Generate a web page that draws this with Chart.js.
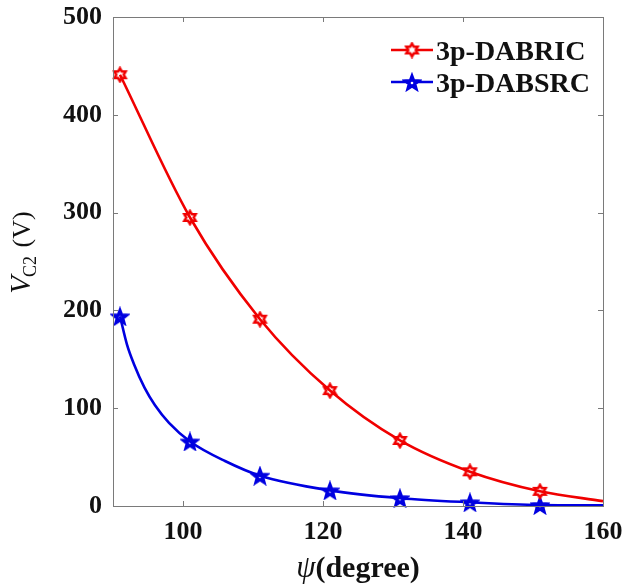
<!DOCTYPE html>
<html>
<head>
<meta charset="utf-8">
<script src="https://cdn.jsdelivr.net/npm/chart.js@4.4.1/dist/chart.umd.min.js"></script>
<style>
html,body{margin:0;padding:0;background:#fff;}
canvas{display:block;}
</style>
</head>
<body>
<canvas id="c" width="638" height="586"></canvas>
<script>
// ---- marker data ----
const psiMarks = [91, 101, 111, 121, 131, 141, 151];
const dabricMarks = [441, 295, 191, 118, 67, 35, 15];
const dabsrcMarks = [194, 66, 31, 16, 8, 3.8, 1];
// ---- curve samples ----
const psiCurveRed = [91, 101, 111, 121, 131, 141, 151, 160];
const dabricCurve = [441, 295, 191, 118, 67, 35, 15, 5];
const psiCurveBlue = [91, 92, 93, 94.5, 96, 98, 101, 106, 111, 121, 131, 141, 151, 160];
const dabsrcCurve = [194, 165, 145, 121, 103, 85, 66, 46, 31, 16, 8, 3.8, 1, 0.6];
const xTicks = [100, 120, 140, 160];
const yTicks = [0, 100, 200, 300, 400, 500];
const seriesNames = ['3p-DABRIC', '3p-DABSRC'];

const RED = '#f00000';
const BLUE = '#0000e0';
const SERIF = '"Liberation Serif", "DejaVu Serif", serif';

function hexagram(color, size) {
  const c = document.createElement('canvas');
  c.width = size; c.height = size;
  const g = c.getContext('2d');
  const cx = size / 2, cy = size / 2, r = size / 2 - 2;
  g.lineWidth = 2.5; g.strokeStyle = color; g.fillStyle = '#fff';
  g.lineJoin = 'miter';
  g.beginPath();
  for (let i = 0; i < 12; i++) {
    const a = -Math.PI / 2 + i * Math.PI / 6;
    const rr = (i % 2 === 0) ? r : r / Math.sqrt(3);
    const x = cx + rr * Math.cos(a), y = cy + rr * Math.sin(a);
    if (i === 0) g.moveTo(x, y); else g.lineTo(x, y);
  }
  g.closePath(); g.fill(); g.stroke();
  return c;
}
function pentagram(color, size) {
  const c = document.createElement('canvas');
  c.width = size; c.height = size;
  const g = c.getContext('2d');
  const cx = size / 2, cy = size / 2 + 1, r = size / 2 - 1.5;
  g.lineWidth = 2; g.strokeStyle = color; g.fillStyle = color;
  g.lineJoin = 'miter';
  g.beginPath();
  for (let i = 0; i < 10; i++) {
    const a = -Math.PI / 2 + i * Math.PI / 5;
    const rr = (i % 2 === 0) ? r : r * 0.42;
    const x = cx + rr * Math.cos(a), y = cy + rr * Math.sin(a);
    if (i === 0) g.moveTo(x, y); else g.lineTo(x, y);
  }
  g.closePath(); g.fill(); g.stroke();
  g.fillStyle = '#fff';
  g.beginPath(); g.arc(cx, cy, 1.3, 0, Math.PI * 2); g.fill();
  return c;
}
const redMark = hexagram(RED, 17);
const blueMark = pentagram(BLUE, 20);

const boxPlugin = {
  id: 'box',
  afterDraw(chart) {
    const { ctx, chartArea: a, scales } = chart;
    ctx.save();
    ctx.strokeStyle = '#7a7a7a';
    ctx.lineWidth = 1;
    ctx.strokeRect(Math.round(a.left) + 0.5, Math.round(a.top) + 0.5,
                   Math.round(a.right - a.left), Math.round(a.bottom - a.top));
    ctx.beginPath();
    const tl = 5;
    scales.x.ticks.forEach(t => {
      const x = Math.round(scales.x.getPixelForValue(t.value)) + 0.5;
      ctx.moveTo(x, a.bottom); ctx.lineTo(x, a.bottom - tl);
      ctx.moveTo(x, a.top); ctx.lineTo(x, a.top + tl);
    });
    scales.y.ticks.forEach(t => {
      const y = Math.round(scales.y.getPixelForValue(t.value)) + 0.5;
      ctx.moveTo(a.left, y); ctx.lineTo(a.left + tl, y);
      ctx.moveTo(a.right, y); ctx.lineTo(a.right - tl, y);
    });
    ctx.stroke();

    // legend
    const items = [
      { name: seriesNames[0], color: RED, mark: redMark, y: 50 },
      { name: seriesNames[1], color: BLUE, mark: blueMark, y: 82 }
    ];
    items.forEach(it => {
      ctx.strokeStyle = it.color; ctx.lineWidth = 2.5;
      ctx.beginPath(); ctx.moveTo(391, it.y); ctx.lineTo(433, it.y); ctx.stroke();
      ctx.drawImage(it.mark, 412 - it.mark.width / 2, it.y - it.mark.height / 2);
      ctx.fillStyle = '#111';
      ctx.font = 'bold 28px ' + SERIF;
      ctx.textBaseline = 'alphabetic'; ctx.textAlign = 'left';
      ctx.fillText(it.name, 436, it.y + 10);
    });

    // x title
    ctx.fillStyle = '#111';
    ctx.textBaseline = 'alphabetic';
    const f1 = 'italic 31px ' + SERIF, f2 = 'bold 30px ' + SERIF;
    ctx.font = f1; const w1 = ctx.measureText('\u03C8').width;
    ctx.font = f2; const w2 = ctx.measureText('(degree)').width;
    const cx = (a.left + a.right) / 2;
    let x0 = cx - (w1 + w2) / 2;
    ctx.font = f1; ctx.textAlign = 'left'; ctx.fillText('\u03C8', x0, 577);
    ctx.font = f2; ctx.fillText('(degree)', x0 + w1, 577);

    // y title
    ctx.translate(30, 253);
    ctx.rotate(-Math.PI / 2);
    const fa = 'italic 29px ' + SERIF, fb = '18px ' + SERIF, fc = '26px ' + SERIF;
    ctx.font = fa; const wa = ctx.measureText('V').width;
    ctx.font = fb; const wb = ctx.measureText('C2').width;
    ctx.font = fc; const wc = ctx.measureText(' (V)').width;
    let s = -(wa + wb + wc) / 2;
    ctx.font = fa; ctx.fillText('V', s, 0);
    ctx.font = fb; ctx.fillText('C2', s + wa - 1, 6);
    ctx.font = fc; ctx.fillText(' (V)', s + wa + wb + 1, 0);
    ctx.restore();
  }
};

const toPts = (xs, ys) => xs.map((x, i) => ({ x: x, y: ys[i] }));

new Chart(document.getElementById('c'), {
  type: 'line',
  data: {
    datasets: [
      {
        label: seriesNames[0] + ' curve',
        data: toPts(psiCurveRed, dabricCurve),
        borderColor: RED, borderWidth: 2.6,
        cubicInterpolationMode: 'monotone',
        pointRadius: 0, pointHoverRadius: 0,
        fill: false, clip: false
      },
      {
        label: seriesNames[1] + ' curve',
        data: toPts(psiCurveBlue, dabsrcCurve),
        borderColor: BLUE, borderWidth: 2.6,
        cubicInterpolationMode: 'monotone',
        pointRadius: 0, pointHoverRadius: 0,
        fill: false, clip: false
      },
      {
        label: seriesNames[0],
        data: toPts(psiMarks, dabricMarks),
        showLine: false,
        pointStyle: redMark, pointRadius: 8, pointHoverRadius: 0,
        clip: false
      },
      {
        label: seriesNames[1],
        data: toPts(psiMarks, dabsrcMarks),
        showLine: false,
        pointStyle: blueMark, pointRadius: 9, pointHoverRadius: 0,
        clip: false
      }
    ]
  },
  options: {
    responsive: false,
    devicePixelRatio: 1,
    animation: false,
    events: [],
    layout: { padding: { top: 17, right: 35, left: 0, bottom: 0 } },
    plugins: { legend: { display: false }, tooltip: { enabled: false } },
    scales: {
      x: {
        type: 'linear',
        min: 90, max: 160,
        afterBuildTicks: s => { s.ticks = xTicks.map(v => ({ value: v })); },
        afterFit: s => { s.height = 80; s.paddingLeft = 0; s.paddingRight = 0; },
        grid: { display: false, drawTicks: false, tickLength: 0 },
        border: { display: false },
        ticks: { color: '#111', font: { family: SERIF, weight: 'bold', size: 26 }, padding: 11, maxRotation: 0 }
      },
      y: {
        type: 'linear',
        min: 0, max: 500,
        afterBuildTicks: s => { s.ticks = yTicks.map(v => ({ value: v })); },
        afterFit: s => { s.width = 113; s.paddingTop = 0; s.paddingBottom = 0; },
        grid: { display: false, drawTicks: false, tickLength: 0 },
        border: { display: false },
        ticks: { color: '#111', font: { family: SERIF, weight: 'bold', size: 26 }, padding: 11 }
      }
    }
  },
  plugins: [boxPlugin]
});
</script>
</body>
</html>
